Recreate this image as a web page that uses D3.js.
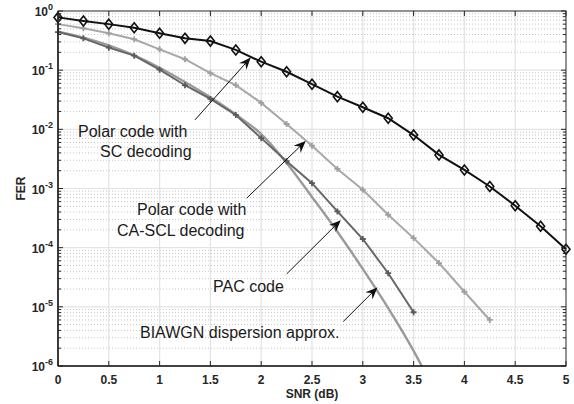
<!DOCTYPE html>
<html lang="en">
<head>
<meta charset="UTF-8">
<title>FER vs SNR</title>
<script src="https://d3js.org/d3.v7.min.js"></script>
<style>
body{margin:0;background:#fff}
svg{display:block;font-family:"Liberation Sans",Arial,Helvetica,sans-serif}
.tick-lbl{font-weight:bold;font-size:12px;fill:#262626}
.ax-title{font-weight:bold;font-size:12px;fill:#262626}
.note{font-size:16px;fill:#1a1a1a}
</style>
</head>
<body>
<svg id="chart" width="574" height="404"></svg>
<script>
// SNR grid (dB)
var snrSC = [0,0.25,0.5,0.75,1,1.25,1.5,1.75,2,2.25,2.5,2.75,3,3.25,3.5,3.75,4,4.25,4.5,4.75,5];
var ferSC = [0.78,0.68,0.60,0.52,0.42,0.345,0.31,0.22,0.139,0.094,0.058,0.0357,0.0236,0.0154,0.0080,0.0037,0.00206,0.00108,0.00051,0.00023,0.000094];

var snrSCL = [0,0.25,0.5,0.75,1,1.25,1.5,1.75,2,2.25,2.5,2.75,3,3.25,3.5,3.75,4,4.25];
var ferSCL = [0.60,0.51,0.42,0.333,0.225,0.153,0.089,0.056,0.028,0.0123,0.0053,0.00214,0.00095,0.00036,0.000145,0.000055,0.000018,0.0000060];

var snrPAC = [0,0.25,0.5,0.75,1,1.25,1.5,1.75,2,2.25,2.5,2.75,3,3.25,3.5];
var ferPAC = [0.44,0.345,0.24,0.176,0.102,0.0556,0.0327,0.0175,0.0071,0.0029,0.00123,0.00041,0.00014,0.000037,0.0000081];

var snrBI = [0,0.25,0.5,0.75,1,1.25,1.5,1.75,2,2.25,2.5,2.75,3,3.25,3.5,3.58];
var ferBI = [0.447,0.355,0.263,0.178,0.110,0.063,0.0347,0.0178,0.0083,0.0027,0.00072,0.000186,0.0000437,0.0000095,0.0000018,0.000001];

var xTicks = [0,0.5,1,1.5,2,2.5,3,3.5,4,4.5,5];
var xTickLabels = ['0','0.5','1','1.5','2','2.5','3','3.5','4','4.5','5'];
var yExps = [0,-1,-2,-3,-4,-5,-6];

// annotations: text lines [text, snr, log10 FER baseline], arrows [tail, tip]
var notes = [
  { lines: [['Polar code with', 0.197, -2.128], ['SC decoding', 0.413, -2.466]], tail: [1.348, -1.84], tip: [1.89, -0.80] },
  { lines: [['Polar code with', 0.778, -3.446], ['CA-SCL decoding', 0.581, -3.80]], tail: [1.857, -3.164], tip: [2.431, -2.208] },
  { lines: [['PAC code', 1.526, -4.747]], tail: [2.251, -4.443], tip: [2.776, -3.547] },
  { lines: [['BIAWGN dispersion approx.', 0.807, -5.524]], tail: [2.808, -5.248], tip: [3.137, -4.684] }
];

var svg = d3.select('#chart');
var pL = 58, pR = 566, pT = 11, pB = 366;

var x = d3.scaleLinear().domain([0, 5]).range([pL, pR]);
var y = d3.scaleLog().domain([1e-6, 1]).range([pB, pT]);

// grid
var grid = svg.append('g');
yExps.slice(1).forEach(function(e) {
  for (var m = 2; m <= 9; m++) {
    var v = m * Math.pow(10, e);
    grid.append('line').attr('x1', pL).attr('x2', pR)
      .attr('y1', y(v)).attr('y2', y(v))
      .attr('stroke', '#b8b8b8').attr('stroke-width', 0.8).attr('stroke-dasharray', '1,2');
  }
});
yExps.slice(1, -1).forEach(function(e) {
  grid.append('line').attr('x1', pL).attr('x2', pR)
    .attr('y1', y(Math.pow(10, e))).attr('y2', y(Math.pow(10, e)))
    .attr('stroke', '#e3e3e3').attr('stroke-width', 1.2);
});
xTicks.slice(1, -1).forEach(function(t) {
  grid.append('line').attr('x1', x(t)).attr('x2', x(t))
    .attr('y1', pT).attr('y2', pB)
    .attr('stroke', '#e3e3e3').attr('stroke-width', 1.2);
});

// series
function zip(a, b) { return a.map(function(v, i) { return [v, b[i]]; }); }
var line = d3.line().x(function(d) { return x(d[0]); }).y(function(d) { return y(d[1]); });
var smooth = d3.line().curve(d3.curveMonotoneX).x(function(d) { return x(d[0]); }).y(function(d) { return y(d[1]); });

var plot = svg.append('g');
plot.append('path').datum(zip(snrBI, ferBI)).attr('d', smooth)
  .attr('fill', 'none').attr('stroke', '#9a9a9a').attr('stroke-width', 2.4);
plot.append('path').datum(zip(snrSCL, ferSCL)).attr('d', line)
  .attr('fill', 'none').attr('stroke', '#a8a8a8').attr('stroke-width', 2);
plot.append('path').datum(zip(snrPAC, ferPAC)).attr('d', line)
  .attr('fill', 'none').attr('stroke', '#666').attr('stroke-width', 2);
plot.append('path').datum(zip(snrSC, ferSC)).attr('d', line)
  .attr('fill', 'none').attr('stroke', '#111').attr('stroke-width', 2);

function plusMarks(data, color) {
  plot.selectAll(null).data(data).join('path')
    .attr('d', function(d) {
      var cx = x(d[0]), cy = y(d[1]), r = 3;
      return 'M' + (cx - r) + ',' + cy + 'H' + (cx + r) + 'M' + cx + ',' + (cy - r) + 'V' + (cy + r);
    })
    .attr('stroke', color).attr('stroke-width', 1.8);
}
plusMarks(zip(snrSCL, ferSCL), '#a0a0a0');
plusMarks(zip(snrPAC, ferPAC), '#5a5a5a');

plot.selectAll(null).data(zip(snrSC, ferSC)).join('path')
  .attr('d', function(d) {
    var cx = x(d[0]), cy = y(d[1]);
    return 'M' + cx + ',' + (cy - 5) + 'L' + (cx + 4) + ',' + cy + 'L' + cx + ',' + (cy + 5) + 'L' + (cx - 4) + ',' + cy + 'Z';
  })
  .attr('fill', 'none').attr('stroke', '#111').attr('stroke-width', 1.6);

// axes box with inward ticks
var ax = svg.append('g').attr('stroke', '#262626');
ax.append('rect').attr('x', pL).attr('y', pT).attr('width', pR - pL).attr('height', pB - pT)
  .attr('fill', 'none').attr('stroke-width', 1);
ax.append('line').attr('x1', pL).attr('x2', pL).attr('y1', pT).attr('y2', pB).attr('stroke-width', 1.6);
ax.append('line').attr('x1', pL).attr('x2', pR).attr('y1', pB).attr('y2', pB).attr('stroke-width', 1.6);

xTicks.forEach(function(t) {
  ax.append('line').attr('x1', x(t)).attr('x2', x(t)).attr('y1', pB).attr('y2', pB - 5);
  ax.append('line').attr('x1', x(t)).attr('x2', x(t)).attr('y1', pT).attr('y2', pT + 5);
});
yExps.forEach(function(e) {
  var v = Math.pow(10, e);
  ax.append('line').attr('x1', pL).attr('x2', pL + 5).attr('y1', y(v)).attr('y2', y(v));
  ax.append('line').attr('x1', pR).attr('x2', pR - 5).attr('y1', y(v)).attr('y2', y(v));
  if (e > -6) {
    for (var m = 2; m <= 9; m++) {
      var mv = m * Math.pow(10, e - 1);
      ax.append('line').attr('x1', pL).attr('x2', pL + 3).attr('y1', y(mv)).attr('y2', y(mv));
      ax.append('line').attr('x1', pR).attr('x2', pR - 3).attr('y1', y(mv)).attr('y2', y(mv));
    }
  }
});

// tick labels
svg.selectAll(null).data(xTicks).join('text')
  .attr('class', 'tick-lbl').attr('x', function(d) { return x(d); }).attr('y', pB + 18)
  .attr('text-anchor', 'middle').text(function(d, i) { return xTickLabels[i]; });

yExps.forEach(function(e) {
  var t = svg.append('text').attr('class', 'tick-lbl')
    .attr('x', pL - 5).attr('y', y(Math.pow(10, e)) + 5).attr('text-anchor', 'end');
  t.append('tspan').text('10');
  t.append('tspan').attr('dy', -6).attr('font-size', 9).text(String(e));
});

svg.append('text').attr('class', 'ax-title').attr('text-anchor', 'middle')
  .attr('transform', 'translate(25,' + ((pT + pB) / 2) + ') rotate(-90)').text('FER');
svg.append('text').attr('class', 'ax-title').attr('text-anchor', 'middle')
  .attr('x', (pL + pR) / 2).attr('y', 398).text('SNR (dB)');

// annotations
var defs = svg.append('defs');
defs.append('marker').attr('id', 'head').attr('viewBox', '0 0 12 10')
  .attr('refX', 11).attr('refY', 5).attr('markerWidth', 12).attr('markerHeight', 10)
  .attr('markerUnits', 'userSpaceOnUse').attr('orient', 'auto')
  .append('path').attr('d', 'M0,0 L12,5 L0,10 L4,5 Z').attr('fill', '#111');

notes.forEach(function(n) {
  n.lines.forEach(function(l) {
    svg.append('text').attr('class', 'note').attr('x', x(l[1])).attr('y', y(Math.pow(10, l[2]))).text(l[0]);
  });
  svg.append('line')
    .attr('x1', x(n.tail[0])).attr('y1', y(Math.pow(10, n.tail[1])))
    .attr('x2', x(n.tip[0])).attr('y2', y(Math.pow(10, n.tip[1])))
    .attr('stroke', '#111').attr('stroke-width', 1).attr('marker-end', 'url(#head)');
});
</script>
</body>
</html>
